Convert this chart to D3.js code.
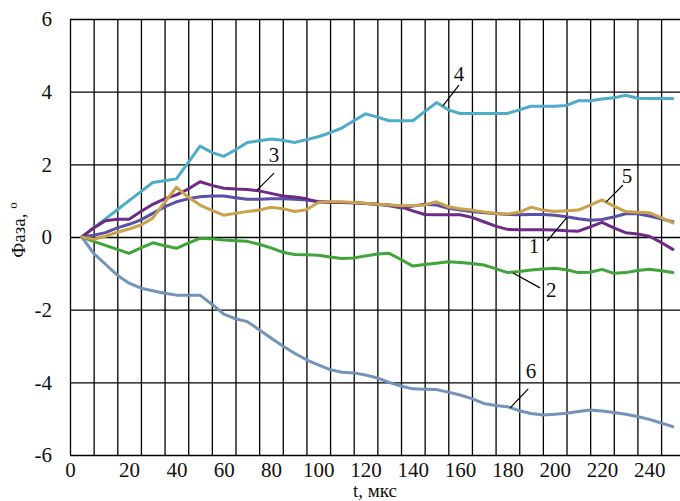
<!DOCTYPE html>
<html><head><meta charset="utf-8">
<script src="https://cdn.jsdelivr.net/npm/d3@7"></script>
<style>
body{margin:0;background:#fff;}
svg{display:block;}
text{font-family:"Liberation Serif","Times New Roman",serif;fill:#111;}
</style></head><body>
<svg id="c" width="680" height="501"></svg>
<script>
// time, мкс (step 5)
const tValues = d3.range(0, 251, 5);
// series values (phase, degrees)
const s1 = [0,0.05,0.12,0.25,0.35,0.47,0.65,0.83,0.97,1.05,1.11,1.13,1.13,1.08,1.04,1.04,1.05,1.05,1.04,1.02,0.98,0.96,0.95,0.94,0.92,0.9,0.86,0.8,0.85,0.9,0.88,0.79,0.74,0.7,0.67,0.65,0.62,0.61,0.62,0.62,0.6,0.56,0.5,0.46,0.48,0.55,0.64,0.64,0.58,0.5,0.42];
const s2 = [0,-0.12,-0.23,-0.34,-0.45,-0.3,-0.16,-0.24,-0.31,-0.17,-0.04,-0.05,-0.08,-0.1,-0.12,-0.2,-0.3,-0.42,-0.48,-0.49,-0.5,-0.55,-0.59,-0.58,-0.52,-0.47,-0.45,-0.62,-0.8,-0.76,-0.72,-0.68,-0.7,-0.73,-0.77,-0.87,-0.98,-0.95,-0.91,-0.88,-0.86,-0.9,-0.98,-0.97,-0.89,-1.0,-0.98,-0.92,-0.89,-0.93,-0.98];
const s3 = [0,0.25,0.45,0.49,0.49,0.7,0.9,1.05,1.16,1.32,1.52,1.42,1.34,1.32,1.31,1.27,1.2,1.13,1.1,1.05,0.96,0.95,0.95,0.94,0.92,0.9,0.88,0.83,0.72,0.62,0.61,0.61,0.61,0.54,0.42,0.3,0.21,0.2,0.2,0.2,0.19,0.17,0.16,0.28,0.4,0.25,0.12,0.08,0.02,-0.15,-0.34];
const s4 = [0,0.25,0.5,0.75,1.0,1.25,1.5,1.55,1.6,2.05,2.5,2.33,2.22,2.4,2.6,2.65,2.7,2.66,2.6,2.68,2.76,2.87,3.0,3.2,3.39,3.3,3.2,3.2,3.2,3.45,3.7,3.5,3.4,3.4,3.4,3.4,3.4,3.5,3.6,3.6,3.6,3.62,3.75,3.75,3.8,3.83,3.9,3.82,3.81,3.81,3.81];
const s5 = [0,-0.06,0.02,0.13,0.22,0.33,0.52,0.95,1.37,1.1,0.88,0.73,0.6,0.65,0.7,0.74,0.82,0.78,0.7,0.75,0.95,0.97,0.97,0.95,0.93,0.9,0.88,0.86,0.87,0.88,0.97,0.83,0.78,0.74,0.69,0.65,0.63,0.68,0.82,0.74,0.7,0.72,0.74,0.88,1.02,0.85,0.7,0.68,0.67,0.53,0.39];
const s6 = [0,-0.45,-0.75,-1.05,-1.27,-1.41,-1.48,-1.55,-1.6,-1.6,-1.6,-1.85,-2.12,-2.25,-2.33,-2.55,-2.78,-3.0,-3.2,-3.38,-3.52,-3.65,-3.72,-3.74,-3.8,-3.88,-4.0,-4.1,-4.18,-4.19,-4.2,-4.27,-4.35,-4.45,-4.58,-4.64,-4.67,-4.78,-4.86,-4.9,-4.88,-4.85,-4.8,-4.76,-4.79,-4.83,-4.88,-4.94,-5.02,-5.12,-5.22];

const seriesNames = ["1","2","3","4","5","6"];
const seriesColors = ["#5a50a6","#3fa53a","#6e2b86","#4eacc8","#c9a24a","#7393bb"];
const seriesData = [s1,s2,s3,s4,s5,s6];
const drawOrder = [5,1,3,0,2,4];

const xTickValues = [-5,20,40,60,80,100,120,140,160,180,200,220,240];
const xTickLabels = ["0","20","40","60","80","100","120","140","160","180","200","220","240"];
const xGrid = d3.range(-5, 250, 10);
const yTicks = [-6,-4,-2,0,2,4,6];
const yTickLabels = ["-6","-4","-2","0","2","4","6"];

// annotation labels: [name, labelT, labelV, leaderT1, leaderV1, leaderT2, leaderV2]
const annotations = [
  ["4",159.5,4.49,159.5,4.18,152.7,3.61],
  ["3",81.3,2.26,81.3,1.76,74.1,1.29],
  ["5",230.6,1.68,228.9,1.43,221.7,0.96],
  ["1",191.3,-0.25,196.8,-0.11,205.3,0.55],
  ["2",198.5,-1.46,193.8,-1.40,182.4,-0.99],
  ["6",190.0,-3.69,188.8,-4.18,181.1,-4.71]
];

const svg = d3.select("#c");
const x = d3.scaleLinear().domain([-5,253]).range([70,680]);
const y = d3.scaleLinear().domain([-6,6]).range([455,19]);

// vertical grid
svg.append("g").attr("transform","translate(0,19)")
  .call(d3.axisBottom(x).tickValues(xGrid).tickSize(436).tickFormat(""))
  .call(g=>g.select(".domain").remove())
  .call(g=>g.selectAll("line").attr("stroke","#000").attr("stroke-width",1.3));
// horizontal grid
svg.append("g").attr("transform","translate(70,0)")
  .call(d3.axisRight(y).tickValues(yTicks).tickSize(610).tickFormat(""))
  .call(g=>g.select(".domain").remove())
  .call(g=>g.selectAll("line").attr("stroke","#000").attr("stroke-width",1.3));

// x labels
svg.append("g").attr("transform","translate(0,455)")
  .call(d3.axisBottom(x).tickValues(xTickValues).tickSize(0).tickPadding(22)
    .tickFormat((d,i)=>xTickLabels[i]))
  .call(g=>g.select(".domain").remove())
  .call(g=>g.selectAll("text").attr("font-size",21).attr("fill","#111")
    .attr("font-family","Liberation Serif, Times New Roman, serif").attr("dy","0"));
// y labels
svg.append("g").attr("transform","translate(70,0)")
  .call(d3.axisLeft(y).tickValues(yTicks).tickSize(0).tickPadding(18)
    .tickFormat((d,i)=>yTickLabels[i]))
  .call(g=>g.select(".domain").remove())
  .call(g=>g.selectAll("text").attr("font-size",21).attr("fill","#111")
    .attr("font-family","Liberation Serif, Times New Roman, serif"));

// axis titles
svg.append("text").attr("x",375).attr("y",497).attr("text-anchor","middle")
  .attr("font-size",19).text("t, мкс");
const yt = svg.append("text").attr("transform","translate(25,230) rotate(-90)")
  .attr("text-anchor","middle").attr("font-size",19);
yt.append("tspan").text("Фаза, ");
yt.append("tspan").attr("font-size",13).attr("dy",-8).text("o");

// lines
const line = d3.line().x((d,i)=>x(tValues[i])).y(d=>y(d));
drawOrder.forEach(k=>{
  svg.append("path").datum(seriesData[k])
    .attr("fill","none").attr("stroke",seriesColors[k])
    .attr("stroke-width",3).attr("stroke-linejoin","round").attr("stroke-linecap","round")
    .attr("d",line);
});

// annotations
annotations.forEach(a=>{
  svg.append("line").attr("x1",x(a[3])).attr("y1",y(a[4])).attr("x2",x(a[5])).attr("y2",y(a[6]))
    .attr("stroke","#000").attr("stroke-width",1.2);
  svg.append("text").attr("x",x(a[1])).attr("y",y(a[2])).attr("text-anchor","middle")
    .attr("dominant-baseline","central").attr("font-size",21).text(a[0]);
});
</script></body></html>
